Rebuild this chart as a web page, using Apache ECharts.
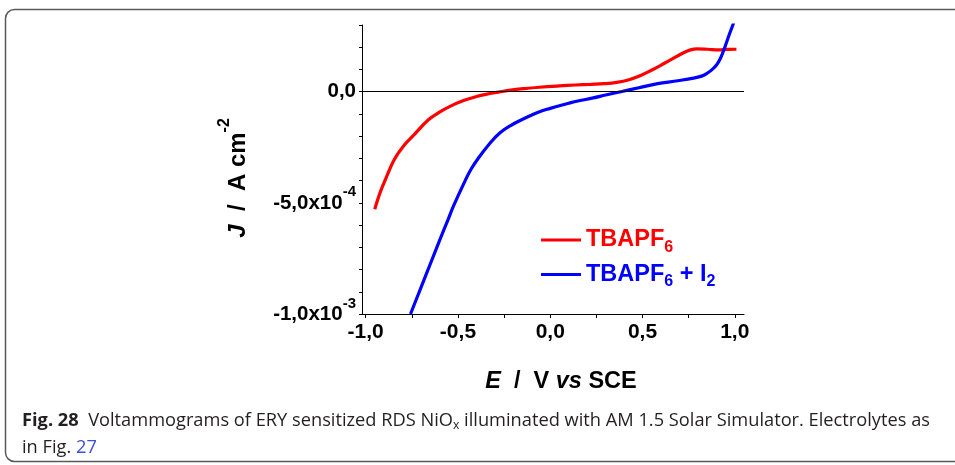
<!DOCTYPE html>
<html><head><meta charset="utf-8">
<script src="https://cdn.jsdelivr.net/npm/echarts@6/dist/echarts.min.js"></script>
<style>html,body{margin:0;padding:0;background:#fff}#c{width:955px;height:465px}</style>
</head><body><div id="c"></div>
<script>
// ---- data (E in V vs SCE, J in units of 1e-4 A cm^-2) ----
const seriesNames = ['TBAPF6', 'TBAPF6 + I2'];
const eRed = [-0.951, -0.922, -0.893, -0.845, -0.796, -0.737, -0.66, -0.60, -0.543, -0.466, -0.40, -0.349, -0.28, -0.214, -0.14, -0.058, 0.05, 0.136, 0.22, 0.291, 0.36, 0.427, 0.49, 0.543, 0.621, 0.717, 0.76, 0.796, 0.853, 0.912, 0.96, 1.009];
const jRed = [-5.29, -4.54, -3.95, -3.05, -2.45, -1.93, -1.26, -0.92, -0.66, -0.39, -0.22, -0.12, -0.02, 0.07, 0.14, 0.20, 0.26, 0.30, 0.33, 0.36, 0.42, 0.54, 0.73, 0.94, 1.29, 1.73, 1.88, 1.93, 1.91, 1.88, 1.90, 1.91];
const eBlue = [-0.757, -0.70, -0.65, -0.60, -0.553, -0.524, -0.466, -0.43, -0.388, -0.33, -0.272, -0.21, -0.155, -0.10, -0.058, 0.0, 0.05, 0.10, 0.15, 0.233, 0.30, 0.388, 0.48, 0.582, 0.68, 0.777, 0.82, 0.845, 0.875, 0.902, 0.925, 0.941, 0.965, 0.989, 1.0];
const jBlue = [-10.0, -8.8, -7.75, -6.7, -5.74, -5.14, -4.09, -3.5, -2.97, -2.35, -1.85, -1.5, -1.26, -1.05, -0.9, -0.75, -0.63, -0.52, -0.42, -0.28, -0.15, 0.01, 0.18, 0.36, 0.48, 0.61, 0.70, 0.80, 0.98, 1.21, 1.55, 1.88, 2.45, 2.99, 3.25];
const xTickValues = [-1, -0.75, -0.5, -0.25, 0, 0.25, 0.5, 0.75, 1];
const xLabelValues = [-1, -0.5, 0, 0.5, 1];
const yLabelValues = [0, -5, -10];
const yLabelMantissa = ['0,0', '-5,0x10', '-1,0x10'];
const yLabelExponent = ['', '-4', '-3'];

const F = '"Liberation Sans", Arial, sans-serif';
const CF = '"Open Sans", "Noto Sans", sans-serif';

function zip(a, b) { return a.map((v, i) => [v, b[i]]); }

// caption condensing factor measured at runtime
const ctx = document.createElement('canvas').getContext('2d');
function mw(font, t) { ctx.font = font; return ctx.measureText(t).width; }
const capMain = '  Voltammograms of ERY sensitized RDS NiO';
const capRest = ' illuminated with AM 1.5 Solar Simulator. Electrolytes as';
const capW = mw('bold 18px "Open Sans"', 'Fig. 28') + mw('18px "Open Sans"', capMain) + mw('12px "Open Sans"', 'x') + mw('18px "Open Sans"', capRest);
const capScale = 908 / capW;

const chart = echarts.init(document.getElementById('c'), null, { renderer: 'canvas' });
const lblRich = {
  m: { fontSize: 20.5, fontWeight: 'bold', fontFamily: F, color: '#000' },
  s: { fontSize: 15, fontWeight: 'bold', fontFamily: F, color: '#000', padding: [0, 0, 21, 0] }
};
const legRich = {
  m: { fontSize: 23.5, fontWeight: 'bold', fontFamily: F },
  s: { fontSize: 16, fontWeight: 'bold', fontFamily: F, padding: [15, 0, 0, 0] }
};
chart.setOption({
  animation: false,
  backgroundColor: '#fff',
  grid: { left: 362, right: 211, top: 25, bottom: 151, containLabel: false },
  xAxis: {
    type: 'value', min: -1.02, max: 1.05,
    axisLine: { show: true, onZero: false, lineStyle: { color: '#000', width: 1 } },
    axisTick: { show: true, inside: false, length: 4, customValues: xTickValues, lineStyle: { color: '#000' } },
    axisLabel: { customValues: xLabelValues, margin: 8, color: '#000', fontSize: 21, fontWeight: 'bold', fontFamily: F,
      formatter: v => v.toFixed(1).replace('.', ',') },
    splitLine: { show: false }
  },
  yAxis: {
    type: 'value', min: -10, max: 3, interval: 1,
    axisLine: { show: true, onZero: false, lineStyle: { color: '#000', width: 1 } },
    axisTick: { show: true, inside: false, length: 3, lineStyle: { color: '#000' } },
    axisLabel: { margin: 6, showMinLabel: true, showMaxLabel: true,
      formatter: v => { const i = yLabelValues.indexOf(Math.round(v)); if (i < 0 || Math.abs(v - Math.round(v)) > 1e-6) return '';
        return '{m|' + yLabelMantissa[i] + '}' + (yLabelExponent[i] ? '{s|' + yLabelExponent[i] + '}' : ''); },
      rich: lblRich },
    splitLine: { show: false }
  },
  legend: {
    orient: 'vertical', left: 536, top: 223, itemGap: 7, itemWidth: 40, itemHeight: 3, icon: 'rect',
    data: [{ name: seriesNames[0], textStyle: { color: '#ff0000' } }, { name: seriesNames[1], textStyle: { color: '#0000ff' } }],
    formatter: n => n === seriesNames[0] ? '{m|TBAPF}{s|6}' : '{m|TBAPF}{s|6}{m| + I}{s|2}',
    textStyle: { rich: legRich }
  },
  series: [
    { name: seriesNames[0], type: 'line', data: zip(eRed, jRed), showSymbol: false, smooth: 0.4,
      lineStyle: { color: '#ff0000', width: 3.2 }, itemStyle: { color: '#ff0000' }, z: 3,
      markLine: { silent: true, symbol: ['none', 'none'], label: { show: false }, animation: false,
        lineStyle: { color: '#000', width: 1, type: 'solid' }, data: [{ yAxis: 0 }] } },
    { name: seriesNames[1], type: 'line', data: zip(eBlue, jBlue), showSymbol: false, smooth: 0.4,
      lineStyle: { color: '#0000ff', width: 3.2 }, itemStyle: { color: '#0000ff' }, z: 3 }
  ],
  graphic: [
    { type: 'rect', z: -1, shape: { x: 5.5, y: 9.5, width: 1000, height: 452, r: 9 }, style: { fill: 'none', stroke: '#5a5a5a', lineWidth: 1.5 } },
    { type: 'text', x: 561, y: 382, style: { text: '{i|E}{n|  /  V }{i|vs}{n| SCE}', align: 'center', verticalAlign: 'middle',
      rich: { i: { fontSize: 23.5, fontWeight: 'bold', fontStyle: 'italic', fontFamily: F, fill: '#000' },
              n: { fontSize: 23.5, fontWeight: 'bold', fontFamily: F, fill: '#000' } } } },
    { type: 'text', x: 238, y: 178, rotation: Math.PI / 2, style: { text: '{i|J}{n|  /  A cm}{s|-2}', align: 'center', verticalAlign: 'middle',
      rich: { i: { fontSize: 24, fontWeight: 'bold', fontStyle: 'italic', fontFamily: F, fill: '#000' },
              n: { fontSize: 24, fontWeight: 'bold', fontFamily: F, fill: '#000' },
              s: { fontSize: 16, fontWeight: 'bold', fontFamily: F, fill: '#000', padding: [0, 0, 27, 0] } } } },
    { type: 'text', x: 22, y: 421, scaleX: capScale, style: { text: '{b|Fig. 28}{n|' + capMain + '}{s|x}{n|' + capRest + '}', align: 'left', verticalAlign: 'middle',
      rich: { b: { fontSize: 18, fontWeight: 'bold', fontFamily: CF, fill: '#231f20' },
              n: { fontSize: 18, fontFamily: CF, fill: '#231f20' },
              s: { fontSize: 12, fontFamily: CF, fill: '#231f20', padding: [10, 0, 0, 0] } } } },
    { type: 'text', x: 22, y: 448, scaleX: capScale, style: { text: '{n|in Fig. }{l|27}', align: 'left', verticalAlign: 'middle',
      rich: { n: { fontSize: 18, fontFamily: CF, fill: '#231f20' },
              l: { fontSize: 18, fontFamily: CF, fill: '#3b4fd8' } } } }
  ]
});
</script></body></html>
